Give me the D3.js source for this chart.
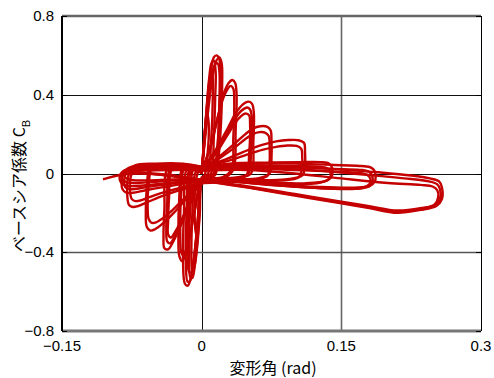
<!DOCTYPE html>
<html>
<head>
<meta charset="utf-8">
<script src="https://cdn.jsdelivr.net/npm/d3@7"></script>
<style>
  html, body { margin: 0; padding: 0; background: #fff; }
  svg { display: block; }
  .tick-label { font-family: "Liberation Sans", Arial, sans-serif; font-size: 15px; fill: #000; }
  .title { font-family: "Noto Sans CJK JP", sans-serif; font-size: 16px; fill: #000; }
</style>
</head>
<body>
<svg id="chart" width="494" height="378"></svg>
<script>
// Axis ticks
const xTicks = [-0.15, 0, 0.15, 0.3];
const xTickLabels = ["\u22120.15", "0", "0.15", "0.3"];
const yTicks = [-0.8, -0.4, 0, 0.4, 0.8];
const yTickLabels = ["\u22120.8", "\u22120.4", "0", "0.4", "0.8"];

// Hysteresis record: drift angle (rad) vs base shear coefficient, cycle by cycle
const cycle0 = [[0,0],[0.002,0.1],[0.004,0.24],[0.006,0.3],[0.0075,0.26],[0.006,0.08],[0.003,-0.01],[0,-0.02],[-0.002,-0.14],[-0.004,-0.27],[-0.006,-0.31],[-0.0075,-0.22],[-0.006,-0.03],[-0.003,0.01],[0,0]];
const cycle1 = [[0,0],[0.002,0.12],[0.005,0.3],[0.008,0.46],[0.010,0.51],[0.0115,0.5],[0.012,0.4],[0.010,0.15],[0.007,0.0],[0.003,-0.02],[0,-0.03],[-0.002,-0.2],[-0.005,-0.38],[-0.008,-0.48],[-0.010,-0.5],[-0.011,-0.42],[-0.010,-0.2],[-0.007,0.0],[-0.003,0.02],[0,0]];
const cycle2 = [[0,0],[0.004,0.25],[0.008,0.48],[0.0105,0.56],[0.013,0.575],[0.015,0.52],[0.0145,0.38],[0.013,0.18],[0.010,0.0],[0.004,-0.02],[0,-0.04],[-0.003,-0.25],[-0.007,-0.45],[-0.010,-0.53],[-0.012,-0.53],[-0.0135,-0.42],[-0.012,-0.15],[-0.009,0.02],[-0.004,0.03],[0,0]];
const cycle3 = [[0,0],[0.005,0.3],[0.010,0.52],[0.013,0.59],[0.016,0.6],[0.019,0.58],[0.020,0.5],[0.019,0.3],[0.016,0.08],[0.012,-0.01],[0.005,-0.02],[0,-0.05],[-0.005,-0.3],[-0.011,-0.52],[-0.015,-0.57],[-0.018,-0.56],[-0.020,-0.45],[-0.019,-0.2],[-0.016,0.02],[-0.008,0.035],[0,0.01]];
const cycle4 = [[0,0.01],[0.006,0.28],[0.012,0.5],[0.016,0.575],[0.019,0.59],[0.0215,0.56],[0.022,0.45],[0.021,0.28],[0.018,0.08],[0.014,-0.01],[0.006,-0.02],[0,-0.04],[-0.004,-0.24],[-0.009,-0.46],[-0.012,-0.54],[-0.015,-0.55],[-0.017,-0.45],[-0.016,-0.18],[-0.013,0.02],[-0.006,0.03],[0,0.01]];
const cycle4b = [[0,0.0],[0.005,0.26],[0.010,0.47],[0.014,0.55],[0.017,0.56],[0.019,0.52],[0.019,0.36],[0.017,0.14],[0.013,0.0],[0.006,-0.02],[0,-0.035],[-0.004,-0.22],[-0.008,-0.42],[-0.011,-0.5],[-0.0135,-0.5],[-0.015,-0.4],[-0.014,-0.15],[-0.011,0.02],[-0.005,0.025],[0,0.0]];
const cycle5 = [[0,0.01],[0.010,0.15],[0.018,0.3],[0.024,0.41],[0.029,0.46],[0.033,0.475],[0.036,0.46],[0.0375,0.4],[0.0365,0.22],[0.034,0.02],[0.025,-0.02],[0.010,-0.025],[0,-0.04],[-0.008,-0.2],[-0.014,-0.35],[-0.018,-0.42],[-0.021,-0.445],[-0.024,-0.42],[-0.025,-0.32],[-0.024,-0.12],[-0.021,0.02],[-0.012,0.035],[0,0.02]];
const cycle6 = [[0,0.01],[0.010,0.14],[0.017,0.28],[0.023,0.38],[0.028,0.43],[0.031,0.445],[0.034,0.43],[0.035,0.36],[0.034,0.18],[0.032,0.02],[0.022,-0.02],[0.010,-0.025],[0,-0.04],[-0.007,-0.18],[-0.013,-0.32],[-0.017,-0.39],[-0.020,-0.415],[-0.022,-0.4],[-0.023,-0.3],[-0.022,-0.1],[-0.019,0.02],[-0.010,0.03],[0,0.02]];
const cycle7 = [[0,0.02],[0.015,0.12],[0.028,0.23],[0.037,0.31],[0.044,0.35],[0.050,0.365],[0.054,0.355],[0.056,0.31],[0.0555,0.16],[0.053,0.0],[0.040,-0.02],[0.020,-0.025],[0,-0.04],[-0.012,-0.15],[-0.024,-0.28],[-0.031,-0.35],[-0.036,-0.385],[-0.040,-0.38],[-0.041,-0.32],[-0.040,-0.18],[-0.037,0.02],[-0.025,0.04],[-0.010,0.04],[0,0.02]];
const cycle8 = [[0,0.02],[0.015,0.11],[0.028,0.21],[0.036,0.28],[0.043,0.32],[0.049,0.335],[0.052,0.325],[0.054,0.28],[0.053,0.12],[0.050,0.0],[0.038,-0.02],[0.018,-0.025],[0,-0.04],[-0.012,-0.14],[-0.023,-0.26],[-0.030,-0.33],[-0.034,-0.355],[-0.037,-0.345],[-0.038,-0.28],[-0.037,-0.15],[-0.034,0.02],[-0.022,0.04],[-0.010,0.04],[0,0.02]];
const cycle8b = [[0,0.02],[0.015,0.1],[0.027,0.19],[0.035,0.25],[0.042,0.29],[0.047,0.305],[0.051,0.295],[0.052,0.25],[0.051,0.1],[0.048,-0.01],[0.036,-0.025],[0.018,-0.03],[0,-0.04],[-0.012,-0.13],[-0.022,-0.24],[-0.029,-0.3],[-0.033,-0.325],[-0.036,-0.31],[-0.036,-0.24],[-0.035,-0.12],[-0.032,0.02],[-0.020,0.035],[0,0.02]];
const cycle9 = [[0,0.02],[0.020,0.09],[0.035,0.15],[0.047,0.2],[0.055,0.228],[0.063,0.24],[0.070,0.238],[0.074,0.22],[0.075,0.16],[0.075,0.08],[0.073,0.0],[0.060,-0.025],[0.030,-0.03],[0,-0.045],[-0.015,-0.12],[-0.030,-0.2],[-0.042,-0.255],[-0.050,-0.283],[-0.055,-0.29],[-0.059,-0.27],[-0.060,-0.2],[-0.059,-0.08],[-0.055,0.03],[-0.040,0.045],[-0.020,0.045],[0,0.03]];
const cycle10 = [[0,0.02],[0.020,0.08],[0.035,0.13],[0.047,0.175],[0.055,0.2],[0.062,0.21],[0.068,0.208],[0.072,0.19],[0.073,0.13],[0.073,0.06],[0.071,-0.01],[0.058,-0.03],[0.030,-0.035],[0,-0.045],[-0.015,-0.11],[-0.030,-0.18],[-0.041,-0.225],[-0.049,-0.248],[-0.054,-0.25],[-0.057,-0.23],[-0.058,-0.17],[-0.057,-0.06],[-0.053,0.03],[-0.040,0.04],[-0.020,0.04],[0,0.03]];
const cycle11 = [[0,0.03],[0.025,0.07],[0.045,0.11],[0.065,0.145],[0.080,0.163],[0.093,0.17],[0.104,0.169],[0.110,0.155],[0.111,0.11],[0.111,0.05],[0.108,-0.01],[0.090,-0.03],[0.050,-0.035],[0,-0.05],[-0.020,-0.08],[-0.040,-0.11],[-0.058,-0.145],[-0.068,-0.165],[-0.074,-0.17],[-0.078,-0.16],[-0.080,-0.1],[-0.078,0.0],[-0.072,0.04],[-0.050,0.05],[-0.020,0.05],[0,0.035]];
const cycle12 = [[0,0.03],[0.025,0.06],[0.045,0.09],[0.065,0.12],[0.080,0.135],[0.092,0.142],[0.102,0.14],[0.107,0.125],[0.108,0.08],[0.108,0.03],[0.104,-0.02],[0.085,-0.035],[0.050,-0.04],[0,-0.05],[-0.020,-0.07],[-0.040,-0.095],[-0.056,-0.12],[-0.066,-0.137],[-0.071,-0.14],[-0.075,-0.13],[-0.077,-0.08],[-0.075,0.0],[-0.068,0.035],[-0.045,0.045],[-0.020,0.045],[0,0.035]];
const cycle13 = [[0,0.03],[0.030,0.05],[0.070,0.055],[0.105,0.058],[0.128,0.058],[0.137,0.05],[0.140,0.03],[0.140,-0.01],[0.135,-0.035],[0.110,-0.05],[0.060,-0.04],[0,-0.04],[-0.030,-0.06],[-0.060,-0.085],[-0.074,-0.098],[-0.081,-0.097],[-0.085,-0.08],[-0.086,-0.05],[-0.083,0.01],[-0.075,0.035],[-0.050,0.04],[-0.020,0.04],[0,0.03]];
const cycle14 = [[0,0.025],[0.030,0.04],[0.070,0.04],[0.105,0.037],[0.127,0.034],[0.135,0.025],[0.138,0.01],[0.138,-0.02],[0.132,-0.04],[0.110,-0.055],[0.060,-0.045],[0,-0.04],[-0.030,-0.05],[-0.060,-0.07],[-0.076,-0.08],[-0.082,-0.07],[-0.083,-0.03],[-0.080,0.015],[-0.072,0.03],[-0.050,0.035],[-0.020,0.035],[0,0.025]];
const cycle15 = [[0,0.03],[0.050,0.05],[0.100,0.05],[0.150,0.042],[0.172,0.038],[0.182,0.03],[0.186,0.01],[0.186,-0.04],[0.180,-0.065],[0.165,-0.078],[0.130,-0.075],[0.080,-0.06],[0.030,-0.04],[0,-0.035],[-0.030,-0.045],[-0.060,-0.06],[-0.082,-0.06],[-0.088,-0.03],[-0.085,0.01],[-0.070,0.03],[-0.030,0.035],[0,0.03]];
const cycle16 = [[0,0.02],[0.050,0.035],[0.100,0.03],[0.150,0.022],[0.172,0.018],[0.180,0.008],[0.183,-0.01],[0.183,-0.045],[0.177,-0.065],[0.160,-0.072],[0.125,-0.068],[0.080,-0.055],[0.030,-0.035],[0,-0.03],[-0.030,-0.035],[-0.060,-0.045],[-0.080,-0.045],[-0.086,-0.02],[-0.082,0.015],[-0.065,0.03],[-0.030,0.03],[0,0.02]];
const cycle16b = [[0,0.015],[0.050,0.025],[0.100,0.018],[0.150,0.008],[0.170,0.003],[0.178,-0.008],[0.181,-0.025],[0.181,-0.05],[0.175,-0.07],[0.158,-0.078],[0.125,-0.074],[0.080,-0.06],[0.030,-0.04],[0,-0.03],[-0.030,-0.03],[-0.060,-0.035],[-0.078,-0.03],[-0.083,-0.01],[-0.078,0.015],[-0.060,0.025],[-0.030,0.025],[0,0.015]];
const cycle17 = [[0,0.02],[0.050,0.04],[0.100,0.035],[0.150,0.02],[0.190,0.006],[0.225,-0.01],[0.245,-0.025],[0.255,-0.04],[0.258,-0.07],[0.258,-0.13],[0.252,-0.165],[0.235,-0.185],[0.210,-0.2],[0.180,-0.176],[0.150,-0.152],[0.100,-0.112],[0.050,-0.072],[0,-0.036],[-0.030,-0.015],[-0.060,0.0],[-0.080,0.01],[-0.060,0.02],[-0.030,0.02],[0,0.015]];
const cycle17b = [[0,0.018],[0.050,0.032],[0.100,0.022],[0.150,0.005],[0.190,-0.012],[0.225,-0.028],[0.244,-0.04],[0.253,-0.055],[0.256,-0.08],[0.256,-0.13],[0.250,-0.162],[0.234,-0.18],[0.210,-0.195],[0.180,-0.172],[0.150,-0.148],[0.100,-0.108],[0.050,-0.07],[0,-0.035],[-0.030,-0.012],[-0.060,0.002],[-0.078,0.008],[-0.060,0.015],[-0.030,0.018],[0,0.018]];
const cycle18 = [[0,0.015],[0.050,0.018],[0.100,0.0],[0.150,-0.025],[0.200,-0.048],[0.235,-0.058],[0.248,-0.066],[0.253,-0.085],[0.254,-0.12],[0.250,-0.158],[0.235,-0.176],[0.210,-0.188],[0.180,-0.166],[0.150,-0.143],[0.100,-0.104],[0.050,-0.066],[0,-0.034],[-0.030,-0.01],[-0.060,0.0],[-0.085,-0.005],[-0.106,-0.03]];

const cycles = [cycle0, cycle1, cycle2, cycle3, cycle4, cycle4b, cycle5, cycle6, cycle7, cycle8, cycle8b,
                cycle9, cycle10, cycle11, cycle12, cycle13, cycle14, cycle15, cycle16, cycle16b,
                cycle17, cycle17b, cycle18];

const svg = d3.select("#chart");
const margin = { left: 62, right: 13, top: 16, bottom: 47 };
const W = 494, H = 378;

const x = d3.scaleLinear().domain([-0.15, 0.3]).range([margin.left, W - margin.right]);
const y = d3.scaleLinear().domain([-0.8, 0.8]).range([H - margin.bottom, margin.top]);

// grid
const grid = svg.append("g");
grid.selectAll("line.vx").data(xTicks.slice(1, -1)).join("line")
  .attr("x1", d => Math.round(x(d)) + 0.5).attr("x2", d => Math.round(x(d)) + 0.5)
  .attr("y1", y(0.8)).attr("y2", y(-0.8))
  .attr("stroke", (d, i) => i === 0 ? "#111" : "#666").attr("stroke-width", (d, i) => i === 0 ? 1 : 1.6);
grid.selectAll("line.hy").data(yTicks.slice(1, -1)).join("line")
  .attr("x1", x(-0.15)).attr("x2", x(0.3))
  .attr("y1", d => Math.round(y(d)) + 0.5).attr("y2", d => Math.round(y(d)) + 0.5)
  .attr("stroke", d => d === -0.4 ? "#555" : "#111").attr("stroke-width", d => d === -0.4 ? 1.4 : 1);

// hysteresis loops
const line = d3.line()
  .x(d => x(d[0])).y(d => y(d[1]))
  .curve(d3.curveCatmullRom.alpha(0.5));
svg.append("g").selectAll("path").data(cycles).join("path")
  .attr("d", line)
  .attr("fill", "none")
  .attr("stroke", "#c40000")
  .attr("stroke-width", 2.4)
  .attr("stroke-linejoin", "round");

// frame
const frame = svg.append("g");
frame.append("line").attr("x1", x(-0.15)).attr("x2", x(0.3)).attr("y1", y(0.8)).attr("y2", y(0.8))
  .attr("stroke", "#666").attr("stroke-width", 2.5);
frame.append("line").attr("x1", x(-0.15)).attr("x2", x(0.3)).attr("y1", y(-0.8)).attr("y2", y(-0.8))
  .attr("stroke", "#777").attr("stroke-width", 3);
frame.append("line").attr("x1", x(-0.15)).attr("x2", x(-0.15)).attr("y1", y(0.8)).attr("y2", y(-0.8))
  .attr("stroke", "#000").attr("stroke-width", 2);
frame.append("line").attr("x1", x(0.3) + 0.5).attr("x2", x(0.3) + 0.5).attr("y1", y(0.8)).attr("y2", y(-0.8))
  .attr("stroke", "#000").attr("stroke-width", 1);

// small inward ticks on right and left edges
frame.selectAll("line.rt").data(yTicks).join("line")
  .attr("x1", x(0.3) - 5).attr("x2", x(0.3))
  .attr("y1", d => Math.round(y(d)) + 0.5).attr("y2", d => Math.round(y(d)) + 0.5)
  .attr("stroke", "#000").attr("stroke-width", 1);
frame.selectAll("line.lt").data(yTicks).join("line")
  .attr("x1", x(-0.15)).attr("x2", x(-0.15) + 5)
  .attr("y1", d => Math.round(y(d)) + 0.5).attr("y2", d => Math.round(y(d)) + 0.5)
  .attr("stroke", "#000").attr("stroke-width", 1);

// tick labels
svg.append("g").selectAll("text").data(yTicks).join("text")
  .attr("class", "tick-label")
  .attr("x", x(-0.15) - 8).attr("y", d => y(d) + 5)
  .attr("text-anchor", "end")
  .text((d, i) => yTickLabels[i]);
svg.append("g").selectAll("text").data(xTicks).join("text")
  .attr("class", "tick-label")
  .attr("x", d => x(d)).attr("y", y(-0.8) + 20)
  .attr("text-anchor", "middle")
  .text((d, i) => xTickLabels[i]);

// axis titles
svg.append("text").attr("class", "title")
  .attr("x", 273).attr("y", 374)
  .attr("text-anchor", "middle")
  .text("変形角 (rad)");

const yt = svg.append("text").attr("class", "title")
  .attr("transform", "translate(25,186) rotate(-90)")
  .attr("text-anchor", "middle");
yt.append("tspan").text("ベースシア係数 C");
yt.append("tspan").attr("font-size", "11px").attr("dy", "5").text("B");
</script>
</body>
</html>
